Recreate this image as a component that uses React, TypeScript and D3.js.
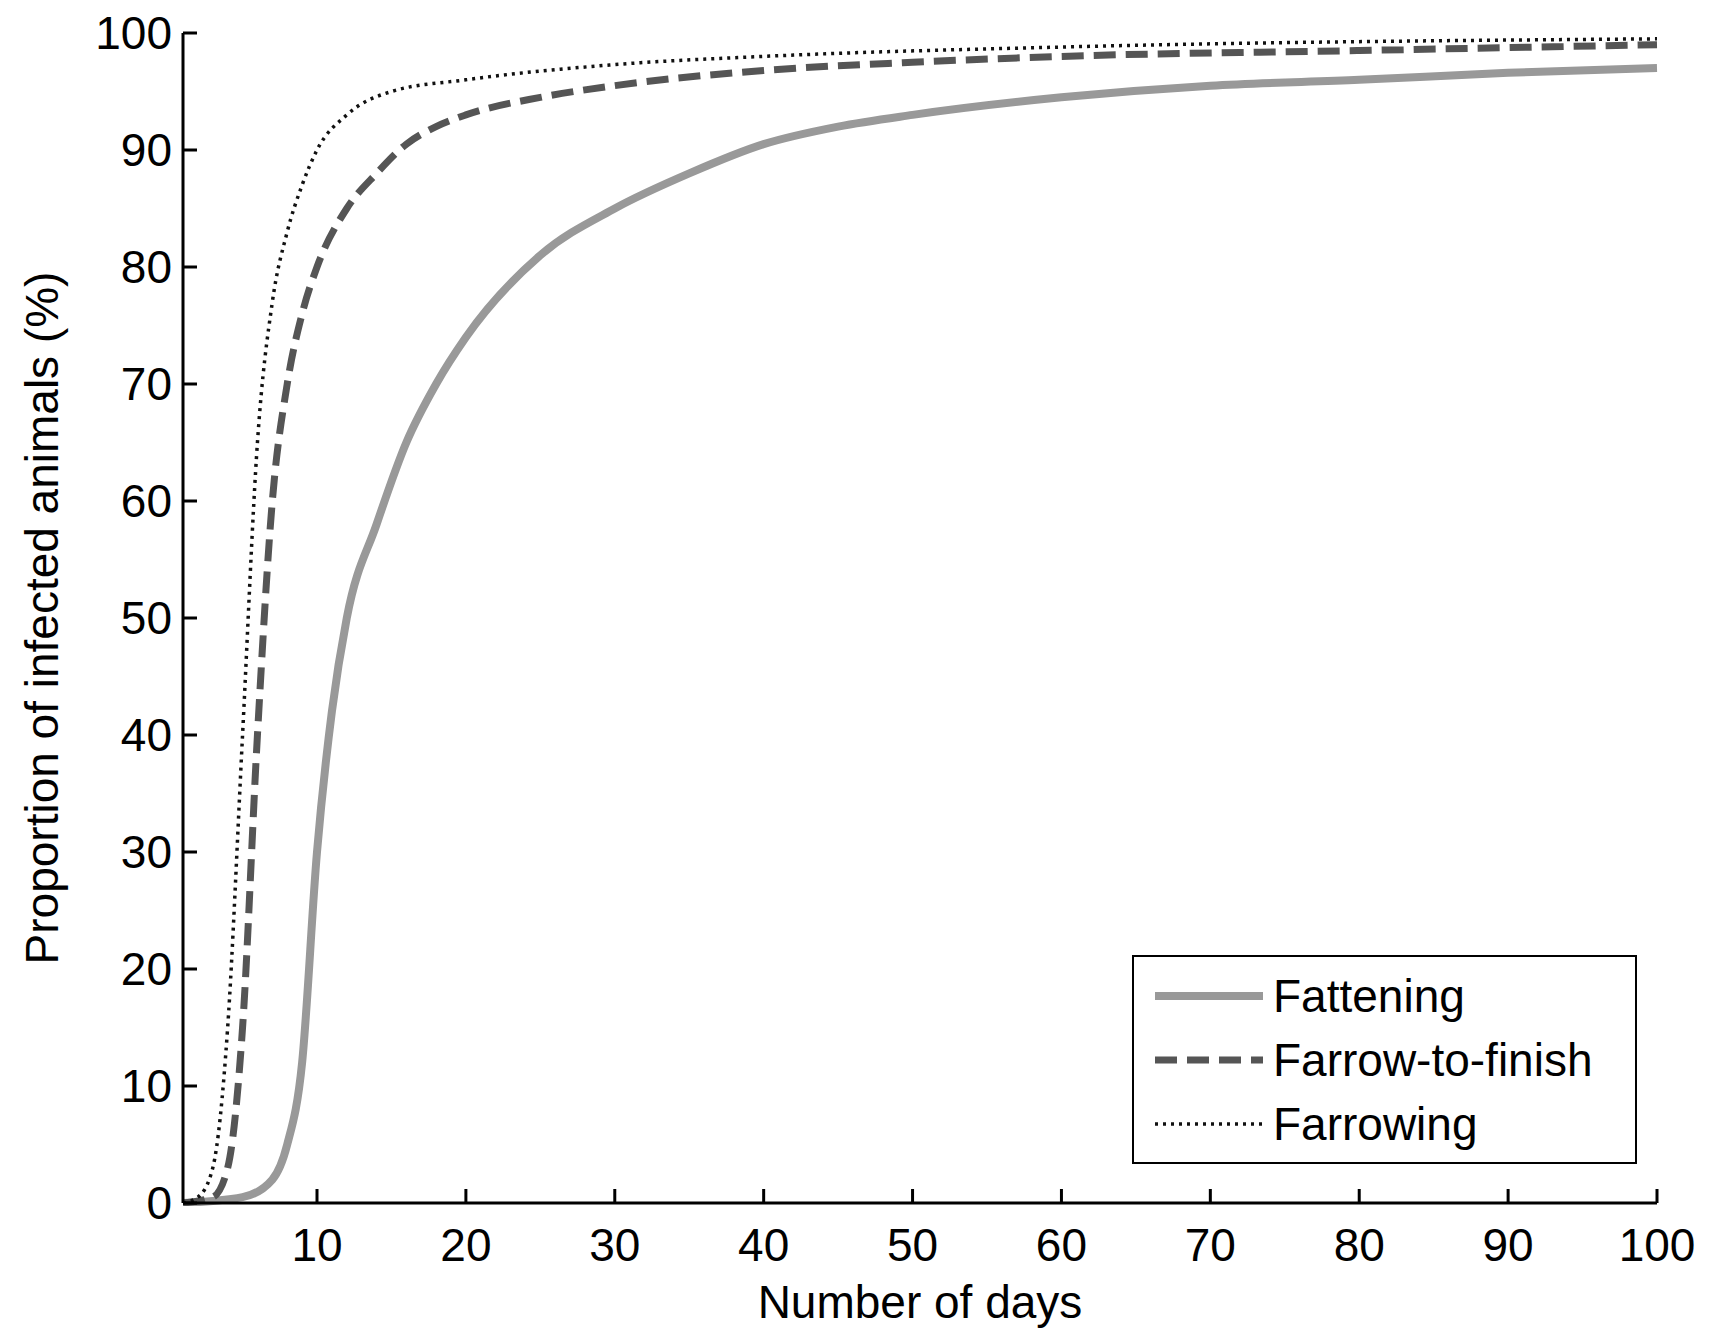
import * as d3 from "d3";

const xTicks = [10, 20, 30, 40, 50, 60, 70, 80, 90, 100];
const yTicks = [0, 10, 20, 30, 40, 50, 60, 70, 80, 90, 100];

const fatteningDays = [1, 5, 7, 8, 9, 10, 11, 12, 14, 16, 18, 20, 25, 30, 35, 40, 45, 50, 60, 70, 80, 90, 100];
const fatteningVals = [0, 0.5, 2, 5, 12, 30, 42, 50, 58, 65, 70, 74, 81, 85, 88, 90.5, 92, 93, 94.5, 95.5, 96, 96.6, 97];
const f2fDays = [1, 3, 4, 5, 6, 7, 8, 9, 10, 12, 14, 16, 18, 20, 25, 30, 40, 50, 60, 80, 100];
const f2fVals = [0, 0.5, 3, 15, 40, 60, 70, 76, 80, 85, 88, 90.5, 92, 93, 94.5, 95.5, 96.8, 97.5, 98, 98.5, 99];
const farrowingDays = [1, 2, 3, 4, 5, 6, 7, 8, 9, 10, 12, 15, 20, 30, 40, 60, 100];
const farrowingVals = [0, 0.5, 3, 15, 40, 65, 77, 83, 87, 90, 93, 95, 96, 97.3, 98, 98.8, 99.5];

const series = [
  { name: "Fattening", days: fatteningDays, vals: fatteningVals, color: "#999", width: 8, dash: "none" },
  { name: "Farrow-to-finish", days: f2fDays, vals: f2fVals, color: "#555", width: 7, dash: "22 10" },
  { name: "Farrowing", days: farrowingDays, vals: farrowingVals, color: "#111", width: 3.5, dash: "3 5" },
];

export default function App() {
  const width = 1712;
  const height = 1329;
  const x = d3.scaleLinear().domain([1, 100]).range([183, 1657]);
  const y = d3.scaleLinear().domain([0, 100]).range([1203, 33]);
  const line = d3
    .line<[number, number]>()
    .x((d) => x(d[0]))
    .y((d) => y(d[1]))
    .curve(d3.curveMonotoneX);
  const font = "Liberation Sans, Arial, sans-serif";
  const fs = 46;

  return (
    <svg width={width} height={height} style={{ position: "absolute", left: 0, top: 0, background: "#fff" }} fontFamily={font}>
      <defs>
        <clipPath id="plot">
          <rect x={183} y={0} width={1480} height={1206} />
        </clipPath>
      </defs>
      <g clipPath="url(#plot)">
        {series.map((s) => (
          <path
            key={s.name}
            d={line(s.days.map((d, i) => [d, s.vals[i]] as [number, number])) ?? ""}
            fill="none"
            stroke={s.color}
            strokeWidth={s.width}
            strokeDasharray={s.dash}
          />
        ))}
      </g>
      <line x1={183} x2={183} y1={33} y2={1203} stroke="#000" strokeWidth={3} />
      <line x1={183} x2={1657} y1={1203} y2={1203} stroke="#000" strokeWidth={3} />
      {yTicks.map((t) => (
        <g key={`y-${t}`}>
          <line x1={183} x2={197} y1={y(t)} y2={y(t)} stroke="#000" strokeWidth={3} />
          <text x={172} y={y(t) + 16} textAnchor="end" fontSize={fs}>
            {t}
          </text>
        </g>
      ))}
      {xTicks.map((t) => (
        <g key={`x-${t}`}>
          <line x1={x(t)} x2={x(t)} y1={1203} y2={1189} stroke="#000" strokeWidth={3} />
          <text x={x(t)} y={1261} textAnchor="middle" fontSize={fs}>
            {t}
          </text>
        </g>
      ))}
      <text x={(183 + 1657) / 2} y={1318} textAnchor="middle" fontSize={fs}>
        Number of days
      </text>
      <text transform={`translate(58, ${(33 + 1203) / 2}) rotate(-90)`} textAnchor="middle" fontSize={fs}>
        Proportion of infected animals (%)
      </text>
      <rect x={1133} y={956} width={503} height={207} fill="#fff" stroke="#000" strokeWidth={2} />
      {series.map((s, i) => (
        <g key={`leg-${s.name}`}>
          <line x1={1155} x2={1263} y1={996 + i * 64} y2={996 + i * 64} stroke={s.color} strokeWidth={s.width} strokeDasharray={s.dash} />
          <text x={1273} y={1012 + i * 64} fontSize={fs}>
            {s.name}
          </text>
        </g>
      ))}
    </svg>
  );
}
